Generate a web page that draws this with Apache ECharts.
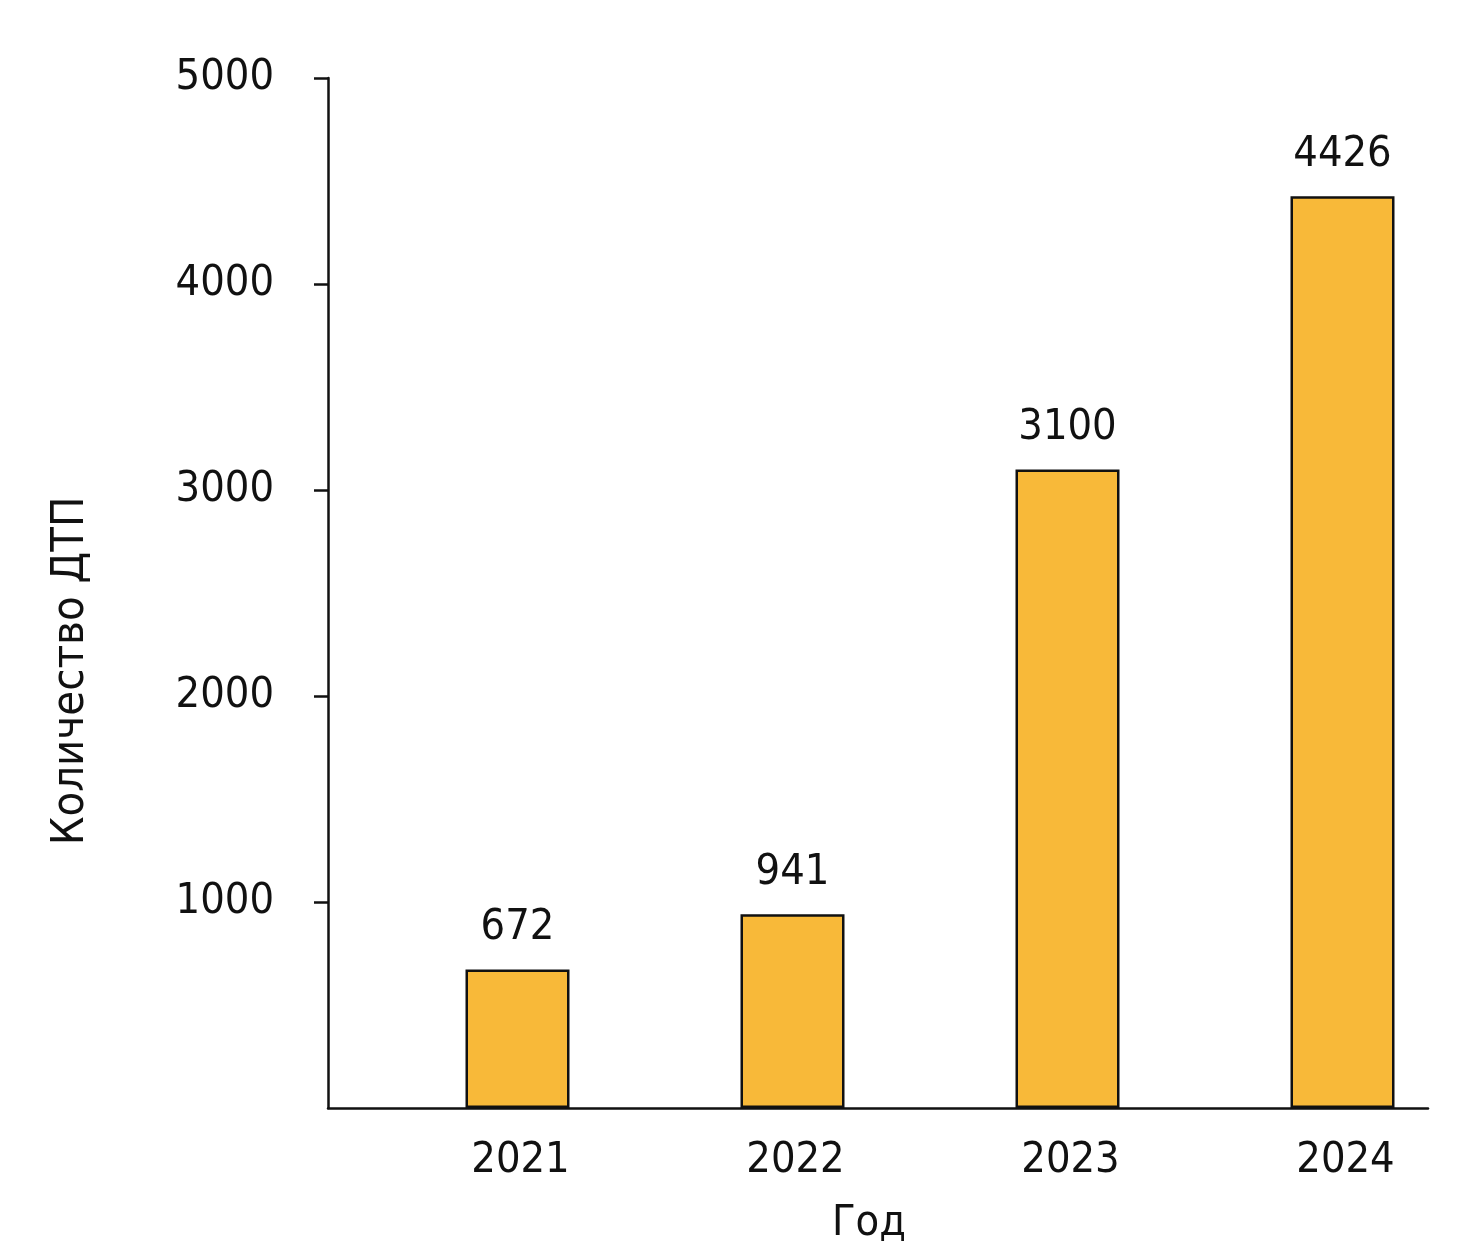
<!DOCTYPE html>
<html>
<head>
<meta charset="utf-8">
<script src="https://cdn.jsdelivr.net/npm/echarts@6/dist/echarts.min.js"></script>
<style>html,body{margin:0;padding:0;background:#fff}#c{width:1480px;height:1260px}</style>
</head>
<body>
<div id="c"></div>
<script>
const categories = ['2021', '2022', '2023', '2024'];
const values = [672, 941, 3100, 4426];
const yTicks = [1000, 2000, 3000, 4000, 5000];
const xName = 'Год';
const yName = 'Количество ДТП';

const FONT = 'DejaVu Sans Condensed';
const chart = echarts.init(document.getElementById('c'), null, {renderer: 'canvas'});
chart.setOption({
  backgroundColor: '#ffffff',
  animation: false,
  grid: {left: 328, right: 52, top: 78, bottom: 152, containLabel: false},
  xAxis: {
    type: 'category',
    data: categories,
    name: xName,
    nameLocation: 'middle',
    nameGap: 94,
    nameTextStyle: {fontFamily: FONT, fontSize: 43, color: '#111', padding: [0, 18, 0, 0]},
    axisLine: {show: true, lineStyle: {color: '#111', width: 2.5}},
    axisTick: {show: false},
    axisLabel: {fontFamily: FONT, fontSize: 43, color: '#111', margin: 31, padding: [0, 0, 0, 110]},
    splitLine: {show: false}
  },
  yAxis: {
    type: 'value',
    min: 0,
    max: 5000,
    interval: 1000,
    name: yName,
    nameLocation: 'middle',
    nameGap: 234,
    nameRotate: 90,
    nameTextStyle: {fontFamily: FONT, fontSize: 45, color: '#111', padding: [0, 156, 0, 0]},
    axisLine: {show: true, lineStyle: {color: '#111', width: 2.5}},
    axisTick: {show: true, length: 14, customValues: yTicks, lineStyle: {color: '#111', width: 2.5}},
    axisLabel: {
      fontFamily: FONT, fontSize: 43, color: '#111', margin: 54,
      customValues: yTicks,
      formatter: v => String(v),
      padding: [10, 0, 0, 0]
    },
    splitLine: {show: false}
  },
  series: [
    {
      type: 'bar',
      data: categories.map(() => null),
      barWidth: 104,
      barGap: '0%',
      silent: true,
      itemStyle: {color: 'transparent'}
    },
    {
      type: 'bar',
      data: values,
      barWidth: 104,
      barGap: '0%',
      itemStyle: {color: '#F8B939', borderColor: '#111', borderWidth: 2.5},
      label: {show: true, position: 'top', distance: 20, fontFamily: FONT, fontSize: 43, color: '#111'}
    }
  ]
});
</script>
</body>
</html>
